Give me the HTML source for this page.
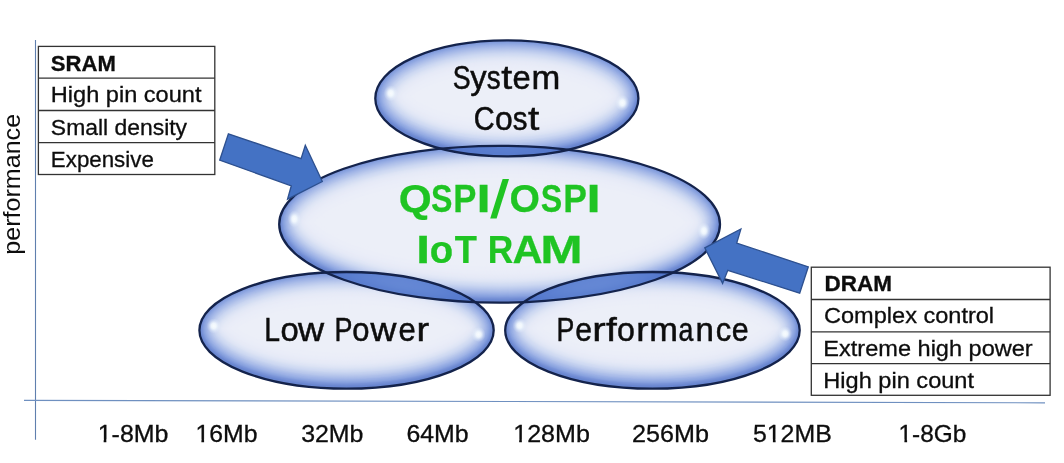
<!DOCTYPE html>
<html>
<head>
<meta charset="utf-8">
<style>
html,body{margin:0;padding:0;background:#fff;}
body{width:1064px;height:463px;overflow:hidden;font-family:"Liberation Sans",sans-serif;}
svg{display:block;}
text{font-family:"Liberation Sans",sans-serif;}
.mul{mix-blend-mode:multiply;}
</style>
</head>
<body>
<svg width="1064" height="463" viewBox="0 0 1064 463">
<defs>
  <radialGradient id="hl" cx="0.5" cy="0.5" r="0.5">
    <stop offset="0" stop-color="#fbfeff" stop-opacity="0.95"/>
    <stop offset="0.35" stop-color="#f6fcff" stop-opacity="0.85"/>
    <stop offset="0.7" stop-color="#f0f8ff" stop-opacity="0.3"/>
    <stop offset="1" stop-color="#f0f8ff" stop-opacity="0"/>
  </radialGradient>
<clipPath id="c_sys"><ellipse cx="506.85" cy="98.4" rx="131.55" ry="58"/></clipPath>
<clipPath id="c_low"><ellipse cx="346.55" cy="330.35" rx="147.15" ry="58.35"/></clipPath>
<clipPath id="c_perf"><ellipse cx="652.45" cy="330.35" rx="147.25" ry="58.35"/></clipPath>
<clipPath id="c_main"><ellipse cx="499.6" cy="224.25" rx="220.4" ry="78.45"/></clipPath>
</defs>
<rect width="1064" height="463" fill="#ffffff"/>

<!-- axes -->
<line x1="35.5" y1="40" x2="35.5" y2="439.7" stroke="#5f7fae" stroke-width="1.1"/>
<line x1="24" y1="400.3" x2="1045" y2="402.8" stroke="#6f90c0" stroke-width="1.2"/>

<!-- ellipses -->
<g class="mul" clip-path="url(#c_sys)">
<ellipse cx="506.85" cy="98.4" rx="131.55" ry="58" fill="#6280cc"/>
<g transform="translate(0,-2)" fill="none">
<ellipse cx="506.85" cy="98.4" rx="131.55" ry="58" fill="#eceff8"/>
<ellipse cx="506.85" cy="98.4" rx="131.55" ry="58" stroke="#eceff8" stroke-width="76"/>
<ellipse cx="506.85" cy="98.4" rx="131.55" ry="58" stroke="#eceff8" stroke-width="74"/>
<ellipse cx="506.85" cy="98.4" rx="131.55" ry="58" stroke="#eceff8" stroke-width="72"/>
<ellipse cx="506.85" cy="98.4" rx="131.55" ry="58" stroke="#eceff8" stroke-width="70"/>
<ellipse cx="506.85" cy="98.4" rx="131.55" ry="58" stroke="#ebeef8" stroke-width="68"/>
<ellipse cx="506.85" cy="98.4" rx="131.55" ry="58" stroke="#ebeef8" stroke-width="66"/>
<ellipse cx="506.85" cy="98.4" rx="131.55" ry="58" stroke="#ebeef8" stroke-width="64"/>
<ellipse cx="506.85" cy="98.4" rx="131.55" ry="58" stroke="#ebeef8" stroke-width="62"/>
<ellipse cx="506.85" cy="98.4" rx="131.55" ry="58" stroke="#eaedf8" stroke-width="60"/>
<ellipse cx="506.85" cy="98.4" rx="131.55" ry="58" stroke="#eaedf8" stroke-width="58"/>
<ellipse cx="506.85" cy="98.4" rx="131.55" ry="58" stroke="#e9edf8" stroke-width="56"/>
<ellipse cx="506.85" cy="98.4" rx="131.55" ry="58" stroke="#e9ecf8" stroke-width="54"/>
<ellipse cx="506.85" cy="98.4" rx="131.55" ry="58" stroke="#e8ebf7" stroke-width="52"/>
<ellipse cx="506.85" cy="98.4" rx="131.55" ry="58" stroke="#e7ebf7" stroke-width="50"/>
<ellipse cx="506.85" cy="98.4" rx="131.55" ry="58" stroke="#e6eaf7" stroke-width="48"/>
<ellipse cx="506.85" cy="98.4" rx="131.55" ry="58" stroke="#e5e9f7" stroke-width="46"/>
<ellipse cx="506.85" cy="98.4" rx="131.55" ry="58" stroke="#e2e8f6" stroke-width="44"/>
<ellipse cx="506.85" cy="98.4" rx="131.55" ry="58" stroke="#e0e6f6" stroke-width="42"/>
<ellipse cx="506.85" cy="98.4" rx="131.55" ry="58" stroke="#dee4f5" stroke-width="40"/>
<ellipse cx="506.85" cy="98.4" rx="131.55" ry="58" stroke="#dae2f4" stroke-width="38"/>
<ellipse cx="506.85" cy="98.4" rx="131.55" ry="58" stroke="#d6dff3" stroke-width="36"/>
<ellipse cx="506.85" cy="98.4" rx="131.55" ry="58" stroke="#d2dcf3" stroke-width="34"/>
<ellipse cx="506.85" cy="98.4" rx="131.55" ry="58" stroke="#cfd9f2" stroke-width="32"/>
<ellipse cx="506.85" cy="98.4" rx="131.55" ry="58" stroke="#cad6f1" stroke-width="30"/>
<ellipse cx="506.85" cy="98.4" rx="131.55" ry="58" stroke="#c4d1ef" stroke-width="28"/>
<ellipse cx="506.85" cy="98.4" rx="131.55" ry="58" stroke="#bfcdee" stroke-width="26"/>
<ellipse cx="506.85" cy="98.4" rx="131.55" ry="58" stroke="#b9c8ec" stroke-width="24"/>
<ellipse cx="506.85" cy="98.4" rx="131.55" ry="58" stroke="#b3c3eb" stroke-width="22"/>
<ellipse cx="506.85" cy="98.4" rx="131.55" ry="58" stroke="#acbee9" stroke-width="20"/>
<ellipse cx="506.85" cy="98.4" rx="131.55" ry="58" stroke="#a6b9e8" stroke-width="18"/>
<ellipse cx="506.85" cy="98.4" rx="131.55" ry="58" stroke="#9fb3e6" stroke-width="16"/>
<ellipse cx="506.85" cy="98.4" rx="131.55" ry="58" stroke="#98aee4" stroke-width="14"/>
<ellipse cx="506.85" cy="98.4" rx="131.55" ry="58" stroke="#90a8e1" stroke-width="12"/>
<ellipse cx="506.85" cy="98.4" rx="131.55" ry="58" stroke="#89a2df" stroke-width="10"/>
<ellipse cx="506.85" cy="98.4" rx="131.55" ry="58" stroke="#809adb" stroke-width="8"/>
<ellipse cx="506.85" cy="98.4" rx="131.55" ry="58" stroke="#7892d7" stroke-width="6"/>
<ellipse cx="506.85" cy="98.4" rx="131.55" ry="58" stroke="#708cd3" stroke-width="4"/>
<ellipse cx="506.85" cy="98.4" rx="131.55" ry="58" stroke="#6986d0" stroke-width="2"/>
</g>
</g>
<g class="mul" clip-path="url(#c_low)">
<ellipse cx="346.55" cy="330.35" rx="147.15" ry="58.35" fill="#6280cc"/>
<g transform="translate(0,-2)" fill="none">
<ellipse cx="346.55" cy="330.35" rx="147.15" ry="58.35" fill="#eceff8"/>
<ellipse cx="346.55" cy="330.35" rx="147.15" ry="58.35" stroke="#eceff8" stroke-width="76"/>
<ellipse cx="346.55" cy="330.35" rx="147.15" ry="58.35" stroke="#eceff8" stroke-width="74"/>
<ellipse cx="346.55" cy="330.35" rx="147.15" ry="58.35" stroke="#eceff8" stroke-width="72"/>
<ellipse cx="346.55" cy="330.35" rx="147.15" ry="58.35" stroke="#eceff8" stroke-width="70"/>
<ellipse cx="346.55" cy="330.35" rx="147.15" ry="58.35" stroke="#ebeef8" stroke-width="68"/>
<ellipse cx="346.55" cy="330.35" rx="147.15" ry="58.35" stroke="#ebeef8" stroke-width="66"/>
<ellipse cx="346.55" cy="330.35" rx="147.15" ry="58.35" stroke="#ebeef8" stroke-width="64"/>
<ellipse cx="346.55" cy="330.35" rx="147.15" ry="58.35" stroke="#ebeef8" stroke-width="62"/>
<ellipse cx="346.55" cy="330.35" rx="147.15" ry="58.35" stroke="#eaedf8" stroke-width="60"/>
<ellipse cx="346.55" cy="330.35" rx="147.15" ry="58.35" stroke="#eaedf8" stroke-width="58"/>
<ellipse cx="346.55" cy="330.35" rx="147.15" ry="58.35" stroke="#e9edf8" stroke-width="56"/>
<ellipse cx="346.55" cy="330.35" rx="147.15" ry="58.35" stroke="#e9ecf8" stroke-width="54"/>
<ellipse cx="346.55" cy="330.35" rx="147.15" ry="58.35" stroke="#e8ebf7" stroke-width="52"/>
<ellipse cx="346.55" cy="330.35" rx="147.15" ry="58.35" stroke="#e7ebf7" stroke-width="50"/>
<ellipse cx="346.55" cy="330.35" rx="147.15" ry="58.35" stroke="#e6eaf7" stroke-width="48"/>
<ellipse cx="346.55" cy="330.35" rx="147.15" ry="58.35" stroke="#e5e9f7" stroke-width="46"/>
<ellipse cx="346.55" cy="330.35" rx="147.15" ry="58.35" stroke="#e2e8f6" stroke-width="44"/>
<ellipse cx="346.55" cy="330.35" rx="147.15" ry="58.35" stroke="#e0e6f6" stroke-width="42"/>
<ellipse cx="346.55" cy="330.35" rx="147.15" ry="58.35" stroke="#dee4f5" stroke-width="40"/>
<ellipse cx="346.55" cy="330.35" rx="147.15" ry="58.35" stroke="#dae2f4" stroke-width="38"/>
<ellipse cx="346.55" cy="330.35" rx="147.15" ry="58.35" stroke="#d6dff3" stroke-width="36"/>
<ellipse cx="346.55" cy="330.35" rx="147.15" ry="58.35" stroke="#d2dcf3" stroke-width="34"/>
<ellipse cx="346.55" cy="330.35" rx="147.15" ry="58.35" stroke="#cfd9f2" stroke-width="32"/>
<ellipse cx="346.55" cy="330.35" rx="147.15" ry="58.35" stroke="#cad6f1" stroke-width="30"/>
<ellipse cx="346.55" cy="330.35" rx="147.15" ry="58.35" stroke="#c4d1ef" stroke-width="28"/>
<ellipse cx="346.55" cy="330.35" rx="147.15" ry="58.35" stroke="#bfcdee" stroke-width="26"/>
<ellipse cx="346.55" cy="330.35" rx="147.15" ry="58.35" stroke="#b9c8ec" stroke-width="24"/>
<ellipse cx="346.55" cy="330.35" rx="147.15" ry="58.35" stroke="#b3c3eb" stroke-width="22"/>
<ellipse cx="346.55" cy="330.35" rx="147.15" ry="58.35" stroke="#acbee9" stroke-width="20"/>
<ellipse cx="346.55" cy="330.35" rx="147.15" ry="58.35" stroke="#a6b9e8" stroke-width="18"/>
<ellipse cx="346.55" cy="330.35" rx="147.15" ry="58.35" stroke="#9fb3e6" stroke-width="16"/>
<ellipse cx="346.55" cy="330.35" rx="147.15" ry="58.35" stroke="#98aee4" stroke-width="14"/>
<ellipse cx="346.55" cy="330.35" rx="147.15" ry="58.35" stroke="#90a8e1" stroke-width="12"/>
<ellipse cx="346.55" cy="330.35" rx="147.15" ry="58.35" stroke="#89a2df" stroke-width="10"/>
<ellipse cx="346.55" cy="330.35" rx="147.15" ry="58.35" stroke="#809adb" stroke-width="8"/>
<ellipse cx="346.55" cy="330.35" rx="147.15" ry="58.35" stroke="#7892d7" stroke-width="6"/>
<ellipse cx="346.55" cy="330.35" rx="147.15" ry="58.35" stroke="#708cd3" stroke-width="4"/>
<ellipse cx="346.55" cy="330.35" rx="147.15" ry="58.35" stroke="#6986d0" stroke-width="2"/>
</g>
</g>
<g class="mul" clip-path="url(#c_perf)">
<ellipse cx="652.45" cy="330.35" rx="147.25" ry="58.35" fill="#6280cc"/>
<g transform="translate(0,-2)" fill="none">
<ellipse cx="652.45" cy="330.35" rx="147.25" ry="58.35" fill="#eceff8"/>
<ellipse cx="652.45" cy="330.35" rx="147.25" ry="58.35" stroke="#eceff8" stroke-width="76"/>
<ellipse cx="652.45" cy="330.35" rx="147.25" ry="58.35" stroke="#eceff8" stroke-width="74"/>
<ellipse cx="652.45" cy="330.35" rx="147.25" ry="58.35" stroke="#eceff8" stroke-width="72"/>
<ellipse cx="652.45" cy="330.35" rx="147.25" ry="58.35" stroke="#eceff8" stroke-width="70"/>
<ellipse cx="652.45" cy="330.35" rx="147.25" ry="58.35" stroke="#ebeef8" stroke-width="68"/>
<ellipse cx="652.45" cy="330.35" rx="147.25" ry="58.35" stroke="#ebeef8" stroke-width="66"/>
<ellipse cx="652.45" cy="330.35" rx="147.25" ry="58.35" stroke="#ebeef8" stroke-width="64"/>
<ellipse cx="652.45" cy="330.35" rx="147.25" ry="58.35" stroke="#ebeef8" stroke-width="62"/>
<ellipse cx="652.45" cy="330.35" rx="147.25" ry="58.35" stroke="#eaedf8" stroke-width="60"/>
<ellipse cx="652.45" cy="330.35" rx="147.25" ry="58.35" stroke="#eaedf8" stroke-width="58"/>
<ellipse cx="652.45" cy="330.35" rx="147.25" ry="58.35" stroke="#e9edf8" stroke-width="56"/>
<ellipse cx="652.45" cy="330.35" rx="147.25" ry="58.35" stroke="#e9ecf8" stroke-width="54"/>
<ellipse cx="652.45" cy="330.35" rx="147.25" ry="58.35" stroke="#e8ebf7" stroke-width="52"/>
<ellipse cx="652.45" cy="330.35" rx="147.25" ry="58.35" stroke="#e7ebf7" stroke-width="50"/>
<ellipse cx="652.45" cy="330.35" rx="147.25" ry="58.35" stroke="#e6eaf7" stroke-width="48"/>
<ellipse cx="652.45" cy="330.35" rx="147.25" ry="58.35" stroke="#e5e9f7" stroke-width="46"/>
<ellipse cx="652.45" cy="330.35" rx="147.25" ry="58.35" stroke="#e2e8f6" stroke-width="44"/>
<ellipse cx="652.45" cy="330.35" rx="147.25" ry="58.35" stroke="#e0e6f6" stroke-width="42"/>
<ellipse cx="652.45" cy="330.35" rx="147.25" ry="58.35" stroke="#dee4f5" stroke-width="40"/>
<ellipse cx="652.45" cy="330.35" rx="147.25" ry="58.35" stroke="#dae2f4" stroke-width="38"/>
<ellipse cx="652.45" cy="330.35" rx="147.25" ry="58.35" stroke="#d6dff3" stroke-width="36"/>
<ellipse cx="652.45" cy="330.35" rx="147.25" ry="58.35" stroke="#d2dcf3" stroke-width="34"/>
<ellipse cx="652.45" cy="330.35" rx="147.25" ry="58.35" stroke="#cfd9f2" stroke-width="32"/>
<ellipse cx="652.45" cy="330.35" rx="147.25" ry="58.35" stroke="#cad6f1" stroke-width="30"/>
<ellipse cx="652.45" cy="330.35" rx="147.25" ry="58.35" stroke="#c4d1ef" stroke-width="28"/>
<ellipse cx="652.45" cy="330.35" rx="147.25" ry="58.35" stroke="#bfcdee" stroke-width="26"/>
<ellipse cx="652.45" cy="330.35" rx="147.25" ry="58.35" stroke="#b9c8ec" stroke-width="24"/>
<ellipse cx="652.45" cy="330.35" rx="147.25" ry="58.35" stroke="#b3c3eb" stroke-width="22"/>
<ellipse cx="652.45" cy="330.35" rx="147.25" ry="58.35" stroke="#acbee9" stroke-width="20"/>
<ellipse cx="652.45" cy="330.35" rx="147.25" ry="58.35" stroke="#a6b9e8" stroke-width="18"/>
<ellipse cx="652.45" cy="330.35" rx="147.25" ry="58.35" stroke="#9fb3e6" stroke-width="16"/>
<ellipse cx="652.45" cy="330.35" rx="147.25" ry="58.35" stroke="#98aee4" stroke-width="14"/>
<ellipse cx="652.45" cy="330.35" rx="147.25" ry="58.35" stroke="#90a8e1" stroke-width="12"/>
<ellipse cx="652.45" cy="330.35" rx="147.25" ry="58.35" stroke="#89a2df" stroke-width="10"/>
<ellipse cx="652.45" cy="330.35" rx="147.25" ry="58.35" stroke="#809adb" stroke-width="8"/>
<ellipse cx="652.45" cy="330.35" rx="147.25" ry="58.35" stroke="#7892d7" stroke-width="6"/>
<ellipse cx="652.45" cy="330.35" rx="147.25" ry="58.35" stroke="#708cd3" stroke-width="4"/>
<ellipse cx="652.45" cy="330.35" rx="147.25" ry="58.35" stroke="#6986d0" stroke-width="2"/>
</g>
</g>
<g class="mul" clip-path="url(#c_main)">
<ellipse cx="499.6" cy="224.25" rx="220.4" ry="78.45" fill="#6280cc"/>
<g transform="translate(0,-2)" fill="none">
<ellipse cx="499.6" cy="224.25" rx="220.4" ry="78.45" fill="#eceff8"/>
<ellipse cx="499.6" cy="224.25" rx="220.4" ry="78.45" stroke="#eceff8" stroke-width="76"/>
<ellipse cx="499.6" cy="224.25" rx="220.4" ry="78.45" stroke="#eceff8" stroke-width="74"/>
<ellipse cx="499.6" cy="224.25" rx="220.4" ry="78.45" stroke="#eceff8" stroke-width="72"/>
<ellipse cx="499.6" cy="224.25" rx="220.4" ry="78.45" stroke="#eceff8" stroke-width="70"/>
<ellipse cx="499.6" cy="224.25" rx="220.4" ry="78.45" stroke="#ebeef8" stroke-width="68"/>
<ellipse cx="499.6" cy="224.25" rx="220.4" ry="78.45" stroke="#ebeef8" stroke-width="66"/>
<ellipse cx="499.6" cy="224.25" rx="220.4" ry="78.45" stroke="#ebeef8" stroke-width="64"/>
<ellipse cx="499.6" cy="224.25" rx="220.4" ry="78.45" stroke="#ebeef8" stroke-width="62"/>
<ellipse cx="499.6" cy="224.25" rx="220.4" ry="78.45" stroke="#eaedf8" stroke-width="60"/>
<ellipse cx="499.6" cy="224.25" rx="220.4" ry="78.45" stroke="#eaedf8" stroke-width="58"/>
<ellipse cx="499.6" cy="224.25" rx="220.4" ry="78.45" stroke="#e9edf8" stroke-width="56"/>
<ellipse cx="499.6" cy="224.25" rx="220.4" ry="78.45" stroke="#e9ecf8" stroke-width="54"/>
<ellipse cx="499.6" cy="224.25" rx="220.4" ry="78.45" stroke="#e8ebf7" stroke-width="52"/>
<ellipse cx="499.6" cy="224.25" rx="220.4" ry="78.45" stroke="#e7ebf7" stroke-width="50"/>
<ellipse cx="499.6" cy="224.25" rx="220.4" ry="78.45" stroke="#e6eaf7" stroke-width="48"/>
<ellipse cx="499.6" cy="224.25" rx="220.4" ry="78.45" stroke="#e5e9f7" stroke-width="46"/>
<ellipse cx="499.6" cy="224.25" rx="220.4" ry="78.45" stroke="#e2e8f6" stroke-width="44"/>
<ellipse cx="499.6" cy="224.25" rx="220.4" ry="78.45" stroke="#e0e6f6" stroke-width="42"/>
<ellipse cx="499.6" cy="224.25" rx="220.4" ry="78.45" stroke="#dee4f5" stroke-width="40"/>
<ellipse cx="499.6" cy="224.25" rx="220.4" ry="78.45" stroke="#dae2f4" stroke-width="38"/>
<ellipse cx="499.6" cy="224.25" rx="220.4" ry="78.45" stroke="#d6dff3" stroke-width="36"/>
<ellipse cx="499.6" cy="224.25" rx="220.4" ry="78.45" stroke="#d2dcf3" stroke-width="34"/>
<ellipse cx="499.6" cy="224.25" rx="220.4" ry="78.45" stroke="#cfd9f2" stroke-width="32"/>
<ellipse cx="499.6" cy="224.25" rx="220.4" ry="78.45" stroke="#cad6f1" stroke-width="30"/>
<ellipse cx="499.6" cy="224.25" rx="220.4" ry="78.45" stroke="#c4d1ef" stroke-width="28"/>
<ellipse cx="499.6" cy="224.25" rx="220.4" ry="78.45" stroke="#bfcdee" stroke-width="26"/>
<ellipse cx="499.6" cy="224.25" rx="220.4" ry="78.45" stroke="#b9c8ec" stroke-width="24"/>
<ellipse cx="499.6" cy="224.25" rx="220.4" ry="78.45" stroke="#b3c3eb" stroke-width="22"/>
<ellipse cx="499.6" cy="224.25" rx="220.4" ry="78.45" stroke="#acbee9" stroke-width="20"/>
<ellipse cx="499.6" cy="224.25" rx="220.4" ry="78.45" stroke="#a6b9e8" stroke-width="18"/>
<ellipse cx="499.6" cy="224.25" rx="220.4" ry="78.45" stroke="#9fb3e6" stroke-width="16"/>
<ellipse cx="499.6" cy="224.25" rx="220.4" ry="78.45" stroke="#98aee4" stroke-width="14"/>
<ellipse cx="499.6" cy="224.25" rx="220.4" ry="78.45" stroke="#90a8e1" stroke-width="12"/>
<ellipse cx="499.6" cy="224.25" rx="220.4" ry="78.45" stroke="#89a2df" stroke-width="10"/>
<ellipse cx="499.6" cy="224.25" rx="220.4" ry="78.45" stroke="#809adb" stroke-width="8"/>
<ellipse cx="499.6" cy="224.25" rx="220.4" ry="78.45" stroke="#7892d7" stroke-width="6"/>
<ellipse cx="499.6" cy="224.25" rx="220.4" ry="78.45" stroke="#708cd3" stroke-width="4"/>
<ellipse cx="499.6" cy="224.25" rx="220.4" ry="78.45" stroke="#6986d0" stroke-width="2"/>
</g>
</g>
<g clip-path="url(#c_main)"><ellipse cx="506.85" cy="98.4" rx="131.55" ry="58" fill="#5f86d4" fill-opacity="0.7"/></g>
<g clip-path="url(#c_main)"><ellipse cx="346.55" cy="330.35" rx="147.15" ry="58.35" fill="#5f86d4" fill-opacity="0.7"/></g>
<g clip-path="url(#c_main)"><ellipse cx="652.45" cy="330.35" rx="147.25" ry="58.35" fill="#5f86d4" fill-opacity="0.7"/></g>
<ellipse cx="506.85" cy="98.4" rx="131.55" ry="58" fill="none" stroke="#14234c" stroke-width="2.3"/>
<ellipse cx="346.55" cy="330.35" rx="147.15" ry="58.35" fill="none" stroke="#14234c" stroke-width="2.3"/>
<ellipse cx="652.45" cy="330.35" rx="147.25" ry="58.35" fill="none" stroke="#14234c" stroke-width="2.3"/>
<ellipse cx="499.6" cy="224.25" rx="220.4" ry="78.45" fill="none" stroke="#14234c" stroke-width="2.3"/>

<!-- highlights -->
<g>
  <ellipse cx="390.7" cy="93.3" rx="7" ry="8" fill="url(#hl)"/>
  <ellipse cx="622.4" cy="102.9" rx="7" ry="8" fill="url(#hl)"/>
  <ellipse cx="213.7" cy="325.9" rx="7" ry="7.5" fill="url(#hl)"/>
  <ellipse cx="478.6" cy="334.5" rx="7" ry="7.5" fill="url(#hl)"/>
  <ellipse cx="519.6" cy="325.6" rx="7" ry="7.5" fill="url(#hl)"/>
  <ellipse cx="785.2" cy="333.8" rx="7" ry="7.5" fill="url(#hl)"/>
  <ellipse cx="294.3" cy="218.9" rx="6.5" ry="8.5" fill="url(#hl)"/>
  <ellipse cx="704" cy="230.9" rx="6.5" ry="8.5" fill="url(#hl)"/>
</g>

<!-- arrows (front) -->
<polygon points="228.4,133.8 301.1,158.6 305.3,145.2 322.3,181.5 287.5,199.2 291.3,185.8 219.7,160.2" fill="#4472c4" stroke="#2d508f" stroke-width="1.3"/>
<polygon points="704.8,247.9 740.9,229.0 736.7,243.1 808.3,266.8 799.7,293.2 727.8,270.3 722.6,283.4" fill="#4472c4" stroke="#2d508f" stroke-width="1.3"/>

<!-- tables -->
<g fill="#ffffff" stroke="#333333" stroke-width="1.3">
  <rect x="38.4" y="46.4" width="176.4" height="128.1"/>
  <line x1="38.4" y1="78.2" x2="214.8" y2="78.2"/>
  <line x1="38.4" y1="110.5" x2="214.8" y2="110.5"/>
  <line x1="38.4" y1="142.6" x2="214.8" y2="142.6"/>
  <rect x="811.3" y="267.2" width="238.8" height="128.1"/>
  <line x1="811.3" y1="299.5" x2="1050.1" y2="299.5"/>
  <line x1="811.3" y1="331.8" x2="1050.1" y2="331.8"/>
  <line x1="811.3" y1="363.6" x2="1050.1" y2="363.6"/>
</g>

<!-- text -->
<g font-size="32.7" font-weight="normal" fill="#0d0d0d" stroke="#0d0d0d" stroke-width="0.5">
<text transform="translate(452.86,89.1) scale(0.82,1)">S</text>
<text transform="translate(470.2,89.1) scale(1,1)">y</text>
<text transform="translate(486.85,89.1) scale(0.85,1)">s</text>
<text transform="translate(501.2,89.1) scale(1.2,1)">t</text>
<text transform="translate(512.6,89.1) scale(1,1)">e</text>
<text transform="translate(531.59,89.1) scale(1.057,1)">m</text>
</g>
<g font-size="32.7" font-weight="normal" fill="#0d0d0d" stroke="#0d0d0d" stroke-width="0.5">
<text transform="translate(473.83,129.8) scale(0.885,1)">C</text>
<text transform="translate(494.92,129.8) scale(0.975,1)">o</text>
<text transform="translate(512.7,129.8) scale(0.9,1)">s</text>
<text transform="translate(527.9,129.8) scale(1.244,1)">t</text>
</g>
<g font-size="32.6" font-weight="normal" fill="#0d0d0d" stroke="#0d0d0d" stroke-width="0.5">
<text transform="translate(264.19,340.8) scale(0.871,1)">L</text>
<text transform="translate(280.39,340.8) scale(1.006,1)">o</text>
<text transform="translate(298,340.8) scale(1.108,1)">w</text>
<text transform="translate(334.43,340.8) scale(0.824,1)">P</text>
<text transform="translate(352.35,340.8) scale(0.95,1)">o</text>
<text transform="translate(370.6,340.8) scale(1.1,1)">w</text>
<text transform="translate(398.45,340.8) scale(0.95,1)">e</text>
<text transform="translate(416.57,340.8) scale(1.163,1)">r</text>
</g>
<g font-size="32.6" font-weight="normal" fill="#0d0d0d" stroke="#0d0d0d" stroke-width="0.5">
<text transform="translate(556.47,340.9) scale(0.82,1)">P</text>
<text transform="translate(575.18,340.9) scale(0.925,1)">e</text>
<text transform="translate(592.23,340.9) scale(1.237,1)">r</text>
<text transform="translate(606,340.9) scale(1.189,1)">f</text>
<text transform="translate(617.01,340.9) scale(0.987,1)">o</text>
<text transform="translate(636.25,340.9) scale(1.125,1)">r</text>
<text transform="translate(649.19,340.9) scale(1.057,1)">m</text>
<text transform="translate(678.41,340.9) scale(0.82,1)">a</text>
<text transform="translate(695.57,340.9) scale(1.014,1)">n</text>
<text transform="translate(715.65,340.9) scale(0.95,1)">c</text>
<text transform="translate(731.77,340.9) scale(0.931,1)">e</text>
</g>
<g font-size="39.2" font-weight="bold" fill="#1fc423" stroke="#1fc423" stroke-width="0.25">
<text transform="translate(398.74,211.7) scale(1.081,1)">Q</text>
<text transform="translate(431.09,211.7) scale(0.82,1)">S</text>
<text transform="translate(453.34,211.7) scale(0.886,1)">P</text>
<text transform="translate(476.5,211.7) scale(1.3,1)">I</text>
<polygon points="490.2,218.6 496.6,218.6 509.0,179.0 502.6,179.0" stroke="none"/>
<text transform="translate(509.6,211.7) scale(1,1)">O</text>
<text transform="translate(540.84,211.7) scale(0.82,1)">S</text>
<text transform="translate(563.19,211.7) scale(0.905,1)">P</text>
<text transform="translate(586.4,211.7) scale(1.3,1)">I</text>
</g>
<g font-size="39.2" font-weight="bold" fill="#1fc423" stroke="#1fc423" stroke-width="0.25">
<text transform="translate(416,262.6) scale(1.3,1)">I</text>
<text transform="translate(429.65,262.6) scale(0.976,1)">o</text>
<text transform="translate(454.8,262.6) scale(0.925,1)">T</text>
<text transform="translate(487.7,262.6) scale(0.9,1)">R</text>
<text transform="translate(512.54,262.6) scale(1.062,1)">A</text>
<text transform="translate(540.35,262.6) scale(1.3,1)">M</text>
</g>
<g stroke="#0d0d0d" stroke-width="0.3">
<text x="50.86" y="70.7" font-size="21.3" font-weight="bold" fill="#0d0d0d" textLength="65.02" lengthAdjust="spacingAndGlyphs">SRAM</text>
<text x="50.76" y="102.3" font-size="22" font-weight="normal" fill="#0d0d0d" textLength="150.75" lengthAdjust="spacingAndGlyphs">High pin count</text>
<text x="50.86" y="134.8" font-size="22" font-weight="normal" fill="#0d0d0d" textLength="136.18" lengthAdjust="spacingAndGlyphs">Small density</text>
<text x="50.87" y="167.1" font-size="22" font-weight="normal" fill="#0d0d0d" textLength="102.95" lengthAdjust="spacingAndGlyphs">Expensive</text>
<text x="824.44" y="291.4" font-size="21.3" font-weight="bold" fill="#0d0d0d" textLength="67.5" lengthAdjust="spacingAndGlyphs">DRAM</text>
<text x="824.03" y="322.9" font-size="22" font-weight="normal" fill="#0d0d0d" textLength="170.09" lengthAdjust="spacingAndGlyphs">Complex control</text>
<text x="823.36" y="355.5" font-size="22" font-weight="normal" fill="#0d0d0d" textLength="209.34" lengthAdjust="spacingAndGlyphs">Extreme high power</text>
<text x="823.36" y="387.6" font-size="22" font-weight="normal" fill="#0d0d0d" textLength="150.64" lengthAdjust="spacingAndGlyphs">High pin count</text>
<text x="97.72" y="442.2" font-size="24" font-weight="normal" fill="#0d0d0d" textLength="70.75" lengthAdjust="spacingAndGlyphs">1-8Mb</text>
<text x="195.43" y="442.2" font-size="24" font-weight="normal" fill="#0d0d0d" textLength="62.05" lengthAdjust="spacingAndGlyphs">16Mb</text>
<text x="301.16" y="442.2" font-size="24" font-weight="normal" fill="#0d0d0d" textLength="62.32" lengthAdjust="spacingAndGlyphs">32Mb</text>
<text x="406.46" y="442.2" font-size="24" font-weight="normal" fill="#0d0d0d" textLength="62.22" lengthAdjust="spacingAndGlyphs">64Mb</text>
<text x="513.21" y="442.2" font-size="24" font-weight="normal" fill="#0d0d0d" textLength="76.64" lengthAdjust="spacingAndGlyphs">128Mb</text>
<text x="632.05" y="442.2" font-size="24" font-weight="normal" fill="#0d0d0d" textLength="76.91" lengthAdjust="spacingAndGlyphs">256Mb</text>
<text x="752.96" y="442.2" font-size="24" font-weight="normal" fill="#0d0d0d" textLength="78.82" lengthAdjust="spacingAndGlyphs">512MB</text>
<text x="898.57" y="442.2" font-size="24" font-weight="normal" fill="#0d0d0d" textLength="67.75" lengthAdjust="spacingAndGlyphs">1-8Gb</text>
</g>

<text transform="translate(19.8,252.6) rotate(-90)" x="-2.09" y="0" font-size="24" fill="#0d0d0d" textLength="140.76" lengthAdjust="spacingAndGlyphs">performance</text>

<!-- trim serif base of digit 1 -->
<rect x="98.8" y="439.5" width="4.85" height="3.6" fill="#fff"/>
<rect x="106.35" y="439.5" width="4.85" height="3.6" fill="#fff"/>
<rect x="196.55" y="439.5" width="4.85" height="3.6" fill="#fff"/>
<rect x="204.1" y="439.5" width="4.85" height="3.6" fill="#fff"/>
<rect x="514.3" y="439.5" width="4.85" height="3.6" fill="#fff"/>
<rect x="521.85" y="439.5" width="4.85" height="3.6" fill="#fff"/>
<rect x="767.8" y="439.5" width="5.1" height="3.6" fill="#fff"/>
<rect x="775.6" y="439.5" width="4.6" height="3.6" fill="#fff"/>
<rect x="899.55" y="439.5" width="4.85" height="3.6" fill="#fff"/>
<rect x="907.1" y="439.5" width="4.6" height="3.6" fill="#fff"/>
</svg>
</body>
</html>
